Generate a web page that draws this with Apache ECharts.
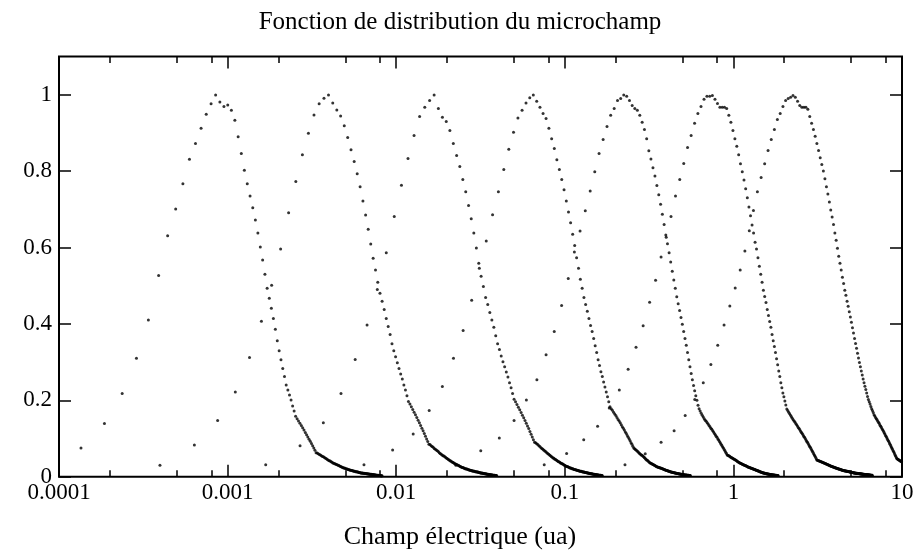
<!DOCTYPE html>
<html><head><meta charset="utf-8">
<script src="https://cdn.jsdelivr.net/npm/echarts@6/dist/echarts.min.js"></script>
<style>html,body{margin:0;padding:0;background:#fff}#c{width:920px;height:558px}</style>
</head><body><div id="c"></div><script>
const titleText = 'Fonction de distribution du microchamp';
const xAxisTitle = 'Champ électrique (ua)';
const xMajorTicks = [0.0001, 0.001, 0.01, 0.1, 1, 10];
const xTickLabels = ['0.0001', '0.001', '0.01', '0.1', '1', '10'];
const xMinorTicks = [2e-4, 5e-4, 8e-4, 2e-3, 5e-3, 8e-3, 0.02, 0.05, 0.08, 0.2, 0.5, 0.8, 2, 5, 8];
const yTicks = [0, 0.2, 0.4, 0.6, 0.8, 1];
const yTickLabels = ['0', '0.2', '0.4', '0.6', '0.8', '1'];

// each curve is sampled on a regular grid of the field: first value and step
const curveXStart = [1.35e-4, 3.97e-4, 1.683e-3, 6.44e-3, 0.0226, 0.0755, 0.2275];
const curveXStep = [5.1e-5, 2.38e-4, 1.007e-3, 3.085e-3, 9.14e-3, 0.027, 0.0725];

const curve1 = [0.075,0.139,0.218,0.310,0.410,0.527,0.631,0.701,0.767,0.831,0.872,0.912,0.949,0.976,0.999,0.981,0.969,0.973,0.959,0.933,0.890,0.846,0.802,0.767,0.735,0.704,0.672,0.638,0.601,0.567,0.530,0.493,0.467,0.441,0.414,0.386,0.356,0.330,0.306,0.283,0.262,0.240,0.227,0.214,0.201,0.185,0.172,0.158,
0.152,0.146,0.140,0.134,0.128,0.122,0.116,0.110,0.104,0.098,0.093,0.087,0.081,0.075,0.069,0.063,
0.062,0.060,0.058,0.057,0.055,0.053,0.052,0.050,0.048,0.047,0.045,0.043,0.042,0.041,0.039,0.038,0.036,0.035,0.034,0.033,0.032,0.031,0.030,0.029,0.028,0.027,0.026,0.025,0.024,0.023,0.023,0.022,0.021,0.020,0.020,0.019,0.018,0.018,0.017,0.017,0.016,0.016,0.015,0.015,0.014,0.014,0.013,0.013,0.013,0.012,0.012,0.011,0.011,0.011,0.010,0.010,0.0098,0.0095,0.0093,0.0090,0.0088,0.0086,0.0084,0.0082,0.0080,0.0078,0.0075,0.0073,0.0071,0.0069,0.0067,0.0065,0.0063,0.0061,0.0059,0.0057,0.0055,0.0053,0.0051,0.0049,0.0047,0.0045,0.0043,0.0041,0.0040,0.0038,0.0036,0.0035,0.0033,0.0032,0.0030,0.0029,0.0028,0.0027,0.0026,0.0025];

const curve2 = [0.030,0.083,0.147,0.222,0.312,0.407,0.501,0.596,0.691,0.773,0.843,0.899,0.947,0.976,0.991,0.999,0.978,0.960,0.944,0.919,0.888,0.856,0.825,0.793,0.759,0.722,0.685,0.648,0.609,0.572,0.541,0.509,0.480,0.459,0.438,0.414,0.393,0.372,0.348,0.330,0.314,0.298,0.283,0.269,0.256,0.240,0.227,0.212,0.197,
0.190,0.183,0.176,0.169,0.162,0.155,0.148,0.141,0.134,0.127,0.120,0.113,0.106,0.099,0.092,0.085,
0.084,0.081,0.079,0.077,0.074,0.072,0.070,0.068,0.066,0.063,0.061,0.059,0.057,0.055,0.054,0.052,0.050,0.048,0.047,0.045,0.044,0.042,0.041,0.039,0.038,0.037,0.035,0.034,0.033,0.032,0.031,0.030,0.029,0.028,0.027,0.026,0.025,0.024,0.024,0.023,0.022,0.021,0.021,0.020,0.020,0.019,0.018,0.018,0.017,0.017,0.016,0.016,0.015,0.015,0.015,0.014,0.014,0.013,0.013,0.013,0.012,0.012,0.012,0.011,0.011,0.011,0.010,0.010,0.0098,0.0095,0.0092,0.0089,0.0086,0.0083,0.0080,0.0077,0.0075,0.0072,0.0070,0.0067,0.0065,0.0062,0.0060,0.0057,0.0055,0.0053,0.0051,0.0049,0.0047,0.0045,0.0043,0.0041,0.0040,0.0038,0.0036,0.0035,0.0033,0.0032,0.0030,0.0029];

const curve3 = [0.031,0.081,0.141,0.218,0.307,0.397,0.490,0.586,0.681,0.763,0.833,0.893,0.943,0.967,0.985,0.999,0.964,0.941,0.930,0.906,0.872,0.841,0.812,0.778,0.746,0.710,0.675,0.638,0.599,0.559,0.525,0.498,0.469,0.451,0.430,0.410,0.391,0.369,0.348,0.333,0.316,0.301,0.288,0.274,0.261,0.246,0.233,0.218,0.203,
0.196,0.189,0.182,0.175,0.168,0.161,0.154,0.147,0.140,0.133,0.126,0.118,0.111,0.104,0.097,0.090,
0.089,0.086,0.084,0.081,0.079,0.076,0.074,0.072,0.069,0.067,0.065,0.063,0.061,0.059,0.057,0.055,0.053,0.051,0.049,0.048,0.046,0.045,0.043,0.042,0.040,0.039,0.038,0.036,0.035,0.034,0.033,0.032,0.030,0.029,0.028,0.027,0.027,0.026,0.025,0.024,0.023,0.023,0.022,0.021,0.021,0.020,0.019,0.019,0.018,0.018,0.017,0.017,0.016,0.016,0.015,0.015,0.014,0.014,0.014,0.013,0.013,0.012,0.012,0.012,0.011,0.011,0.011,0.0104,0.0101,0.0098,0.0095,0.0092,0.0089,0.0086,0.0083,0.0080,0.0077,0.0074,0.0072,0.0069,0.0067,0.0064,0.0062,0.0059,0.0057,0.0055,0.0053,0.0051,0.0049,0.0047,0.0045,0.0043,0.0041,0.0040,0.0038,0.0036,0.0035,0.0033,0.0032,0.0030];

const curve4 = [0.031,0.070,0.112,0.173,0.236,0.310,0.383,0.462,0.546,0.617,0.686,0.746,0.804,0.857,0.902,0.939,0.959,0.978,0.992,0.999,
0.983,0.967,0.951,0.938,0.912,0.885,0.859,0.830,0.804,0.778,0.751,0.722,0.693,0.665,0.635,0.605,0.573,0.546,0.517,0.493,0.469,0.451,0.433,0.414,0.396,0.380,0.362,0.343,0.325,0.306,0.291,0.275,0.262,0.248,0.235,0.222,0.209,0.196,0.183,
0.178,0.174,0.169,0.164,0.160,0.155,0.150,0.146,0.141,0.136,0.131,0.127,0.122,0.117,0.113,0.108,0.103,0.099,0.094,0.089,0.085,0.080,0.075,
0.073,0.071,0.069,0.067,0.065,0.063,0.061,0.059,0.057,0.056,0.054,0.052,0.050,0.048,0.046,0.044,0.043,0.041,0.039,0.037,0.036,0.035,0.034,0.033,0.032,0.031,0.030,0.029,0.028,0.027,0.026,0.0255,0.025,0.0244,0.0238,0.0231,0.0225,0.0218,0.0212,0.0205,0.0199,0.0192,0.0186,0.0180,0.0175,0.0170,0.0165,0.0160,0.0155,0.0150,0.0145,0.0140,0.0135,0.0130,0.0126,0.0123,0.0119,0.0115,0.0112,0.0108,0.0104,0.0101,0.0097,0.0094,0.0090,0.0088,0.0085,0.0083,0.0081,0.0078,0.0076,0.0073,0.0071,0.0069,0.0066,0.0064,0.0062,0.0059,0.0057,0.0054,0.0052,0.0050,0.0049,0.0047,0.0046,0.0045,0.0043,0.0042,0.0041,0.0039,0.0038,0.0037,0.0035,0.0034,0.0033,0.0031,0.0030];

const curve5 = [0.030,0.068,0.101,0.147,0.201,0.254,0.319,0.380,0.448,0.519,0.588,0.643,0.696,0.748,0.798,0.846,0.883,0.917,0.946,0.964,0.985,0.990,0.999,0.996,0.985,0.972,0.964,0.959,0.946,0.928,0.909,0.885,
0.853,0.832,0.809,0.787,0.762,0.738,0.713,0.687,0.660,0.633,0.610,0.586,0.562,0.538,0.515,0.493,0.471,0.453,0.435,0.417,0.399,0.380,0.362,0.344,0.325,0.306,0.288,0.270,0.254,0.239,0.225,0.212,0.200,0.187,0.178,0.172,0.166,0.161,0.156,0.152,
0.148,0.145,0.141,0.138,0.134,0.131,0.127,0.124,0.120,0.117,0.113,0.110,0.106,0.103,0.099,0.096,0.092,0.089,0.085,0.082,0.078,0.075,0.071,0.068,0.064,0.061,0.057,
0.056,0.055,0.054,0.053,0.051,0.050,0.049,0.048,0.047,0.046,0.045,0.044,0.043,0.042,0.040,0.039,0.038,0.037,0.036,0.035,0.0343,0.0336,0.0329,0.0321,0.0314,0.0307,0.0300,0.0293,0.0286,0.0279,0.0271,0.0264,0.0257,0.0250,0.0245,0.0240,0.0234,0.0229,0.0224,0.0219,0.0214,0.0208,0.0203,0.0198,0.0193,0.0188,0.0182,0.0177,0.0172,0.0167,0.0162,0.0156,0.0151,0.0146,0.0141,0.0135,0.0130,0.0125,0.0120,0.0116,0.0112,0.0108,0.0104,0.0100,0.0097,0.0094,0.0091,0.0088,0.0085,0.0082,0.0079,0.0076,0.0074,0.0072,0.0070,0.0068,0.0066,0.0064,0.0062,0.0060,0.0058,0.0056,0.0054,0.0052,0.0050,0.0048,0.0047,0.0046,0.0044,0.0043,0.0042,0.0040,0.0039,0.0038,0.0036,0.0035,0.0034,0.0033,0.0032,0.0031,0.0030];

const curve6 = [0.031,0.061,0.097,0.132,0.180,0.227,0.281,0.339,0.395,0.457,0.514,0.575,0.627,0.681,0.735,0.778,0.820,0.862,0.893,0.925,0.951,0.969,0.988,0.996,0.996,0.998,0.988,0.977,0.967,0.967,0.967,0.964,0.946,0.928,0.906,0.885,
0.865,0.843,0.819,0.798,0.777,0.754,0.730,0.706,0.683,0.659,0.638,0.614,0.596,0.573,0.551,0.530,0.509,0.488,0.472,0.456,0.438,0.422,0.406,0.391,0.372,0.356,0.341,0.325,0.309,0.293,0.277,0.262,0.246,0.233,0.219,0.209,0.198,0.188,0.177,
0.173,0.169,0.165,0.161,0.157,0.153,0.149,
0.146,0.143,0.139,0.136,0.133,0.129,0.126,0.123,0.119,0.116,0.113,0.110,0.106,0.103,0.100,0.096,0.093,0.090,0.087,0.083,0.080,0.077,0.074,0.070,0.067,0.064,0.060,0.057,0.054,0.051,0.047,0.044,
0.0433,0.0426,0.0419,0.0412,0.0405,0.0398,0.0391,0.0384,0.0377,0.0370,0.0364,0.0357,0.0350,0.0344,0.0337,0.0330,0.0324,0.0317,0.0310,0.0304,0.0297,0.0290,0.0285,0.0280,0.0275,0.0270,0.0265,0.0260,0.0255,0.0250,0.0245,0.0240,0.0235,0.0230,0.0225,0.0220,0.0216,0.0212,0.0208,0.0204,0.0200,0.0196,0.0192,0.0188,0.0184,0.0180,0.0176,0.0172,0.0168,0.0164,0.0162,0.0159,0.0157,0.0154,0.0152,0.0150,0.0147,0.0145,0.0142,0.0140,0.0138,0.0135,0.0133,0.0130,0.0128,0.0126,0.0123,0.0121,0.0118,0.0116,0.0114,0.0111,0.0109,0.0106,0.0104,0.0102,0.0099,0.0097,0.0096,0.0094,0.0093,0.0092,0.0090,0.0089,0.0088,0.0086,0.0085,0.0084,0.0082,0.0081,0.0080,0.0078,0.0077,0.0076,0.0074,0.0073,0.0072,0.0070,0.0069,0.0068,0.0066,0.0065,0.0064,0.0062,0.0061,0.0060,0.0059,0.0058,0.0057,0.0056,0.0055,0.0054,0.0053,0.0052,0.0051,0.0050,0.0049,0.0048,0.0047,0.0046,0.0045,0.0044,0.0043,0.0042,0.0041,0.0040,0.0039,0.0038,0.0037,0.0036,0.0035];

const curve7 = [0.031,0.060,0.0905,0.120,0.160,0.202,0.246,0.294,0.344,0.397,0.447,0.494,0.541,0.591,0.644,0.697,0.746,0.783,0.819,0.854,0.883,0.909,0.935,0.951,0.969,0.985,0.990,0.993,0.998,0.993,0.983,0.972,0.967,0.967,0.967,0.962,0.943,0.925,0.909,0.891,0.872,0.854,0.835,0.817,0.800,0.780,0.759,0.740,0.719,0.698,0.680,0.660,0.638,0.619,0.598,0.577,0.559,0.541,0.522,0.506,0.488,0.475,0.459,0.446,
0.432,0.418,0.404,0.390,0.376,0.362,0.349,0.336,0.323,0.311,0.299,0.288,0.277,0.266,0.256,0.246,0.237,0.228,0.219,0.210,0.202,0.196,0.190,0.184,0.178,0.173,0.168,0.162,
0.159,0.155,0.152,0.149,0.145,0.142,0.139,0.135,0.132,0.129,0.125,0.122,0.119,0.115,0.112,0.108,0.105,0.102,0.098,0.095,0.092,0.088,0.085,0.082,0.078,0.075,0.072,0.068,0.065,0.062,0.058,0.055,0.052,0.048,
0.047,0.046,0.045,0.044,0.043,0.042,0.041,0.040,0.039];

const curves = [curve1, curve2, curve3, curve4, curve5, curve6, curve7];

const FONT = "'Liberation Serif', 'Times New Roman', serif";
const TITLE_TXT = { fontFamily: FONT, fontSize: 25, color: '#000', fontWeight: 'normal' };
const XLAB_TXT = { fontFamily: FONT, fontSize: 26, color: '#000', fontWeight: 'normal' };

function xLabel(v) {
  const k = Math.round(Math.log10(v)) + 4;
  return xTickLabels[k] !== undefined ? xTickLabels[k] : '';
}
function yLabel(v) {
  const k = Math.round(v / 0.2);
  return (Math.abs(v - yTicks[k]) < 1e-6 && yTickLabels[k] !== undefined) ? yTickLabels[k] : '';
}
function xAxisDef(position, ticks, len, showLabels) {
  return {
    type: 'log', logBase: 10, min: 1e-4, max: 10, position: position,
    axisLine: { show: false }, splitLine: { show: false },
    minorTick: { show: false }, minorSplitLine: { show: false },
    axisTick: { show: true, inside: true, length: len, customValues: ticks,
                lineStyle: { color: '#000', width: 1.5 } },
    axisLabel: { show: showLabels, customValues: ticks, formatter: xLabel, margin: 5,
                 fontFamily: FONT, fontSize: 23, color: '#000' }
  };
}
function yAxisDef(position, showLabels) {
  return {
    type: 'value', min: 0, max: 1.1, position: position,
    axisLine: { show: false }, splitLine: { show: false },
    axisTick: { show: true, inside: true, length: 12, customValues: yTicks,
                lineStyle: { color: '#000', width: 1.5 } },
    axisLabel: { show: showLabels, customValues: yTicks, formatter: yLabel, margin: 7,
                 fontFamily: FONT, fontSize: 23, color: '#000' }
  };
}

const series = curves.map((ys, c) => ({
  type: 'scatter',
  xAxisIndex: 0, yAxisIndex: 0,
  symbol: 'circle', symbolSize: 3,
  itemStyle: { color: '#000' },
  silent: true, animation: false, clip: true,
  data: ys.map((y, i) => [curveXStart[c] + i * curveXStep[c], y])
}));

const chart = echarts.init(document.getElementById('c'), null, { renderer: 'canvas' });
chart.setOption({
  backgroundColor: '#fff',
  animation: false,
  title: [
    { text: titleText, left: 'center', top: 5, textStyle: TITLE_TXT },
    { text: xAxisTitle, left: 'center', top: 519, textStyle: XLAB_TXT }
  ],
  grid: { left: 59, right: 18, top: 56.5, bottom: 81.3, show: true,
          borderColor: '#000', borderWidth: 2, backgroundColor: 'transparent' },
  xAxis: [
    xAxisDef('bottom', xMajorTicks, 12, true),
    xAxisDef('bottom', xMinorTicks, 6.5, false),
    xAxisDef('top', xMajorTicks, 12, false),
    xAxisDef('top', xMinorTicks, 6.5, false)
  ],
  yAxis: [ yAxisDef('left', true), yAxisDef('right', false) ],
  series: series
});
</script></body></html>
